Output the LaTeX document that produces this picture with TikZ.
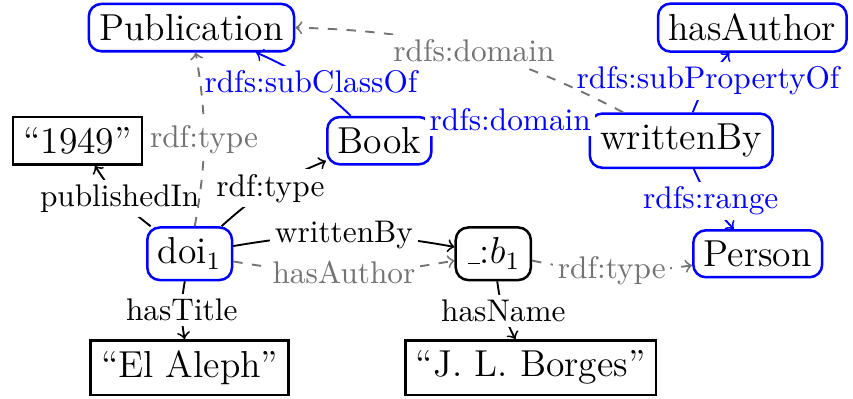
\documentclass[tikz,border=0pt]{standalone}
\newcommand\blankus{\leavevmode\kern.06em\vbox{\hrule width.3em}}
\begin{document}
\begin{tikzpicture}[bend angle=10,
		cls/.style={draw=blue,thick,rounded corners,font=\large},
		bnode/.style={draw,thick,rounded corners,font=\large},
		lit/.style={draw,thick,font=\large},
		rel/.style={->,semithick,every node/.append style={fill=white,inner sep=1.5pt}},
		sch/.style={rel,blue},
		inf/.style={rel,black!55,dashed}]
		\useasboundingbox(0,0)rectangle(9.58,4.47);
		\node[cls](pub)at(2.15,4.16){Publication};
		\node[cls](hasauthor)at(8.45,4.16){hasAuthor};
		\node[lit](year)at(0.87,2.89){“1949”};
		\node[cls](book)at(4.26,2.89){Book};
		\node[cls](writtenby)at(7.65,2.89){writtenBy};
		\node[cls](doi)at(2.13,1.62){doi$_1$};
		\node[bnode](b)at(5.54,1.62){\blankus:$b_1$};
		\node[cls](person)at(8.51,1.62){Person};
		\node[lit](title)at(2.13,0.34){“El Aleph”};
		\node[lit](name)at(5.96,0.34){“J. L. Borges”};
		\draw[rel](doi)edge[bend left]node{publishedIn}(year)
			edge[bend left]node{rdf:type}(book)
			edge[bend left]node{writtenBy}(b)
			edge[bend right]node{hasTitle}(title)
			(b)edge[bend right]node{hasName}(name);
		\draw[sch](book)edge[bend right]node[pos=0.45]{rdfs:subClassOf}(pub)
			(writtenby)edge[bend right]node{rdfs:domain}(book)
			edge[bend left]node{rdfs:subPropertyOf}(hasauthor)
			edge[bend right]node{rdfs:range}(person);
		\draw[inf](doi)edge[bend right]node{rdf:type}(pub)
			edge[bend right]node{hasAuthor}(b)
			(b)edge[bend right]node{rdf:type}(person)
			(writtenby)edge[bend right=13]node[pos=0.47]{rdfs:domain}(pub);
	\end{tikzpicture}
\end{document}
